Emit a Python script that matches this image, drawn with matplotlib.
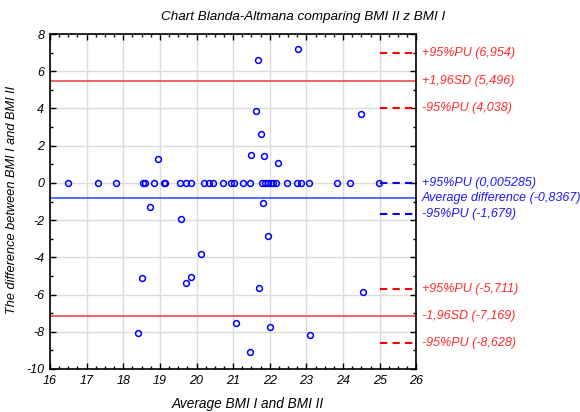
import matplotlib
matplotlib.use("Agg")
import matplotlib.pyplot as plt
from matplotlib.ticker import MultipleLocator
import numpy as np

plt.rcParams['font.family'] = ['Liberation Sans', 'DejaVu Sans']
plt.rcParams['axes.unicode_minus'] = False

# points lying on zero difference
zero_x = [16.5, 17.3, 17.8, 18.55, 18.6, 18.83, 19.1, 19.15, 19.54, 19.7, 19.85,
          20.2, 20.33, 20.45, 20.72, 20.95, 21.03, 21.26, 21.45, 21.8, 21.88,
          21.95, 22.03, 22.1, 22.17, 22.48, 22.75, 22.86, 23.06, 23.83, 24.2, 24.98]
# points with non-zero difference
nz_x = [21.68, 22.77, 21.62, 21.75, 21.48, 21.84, 22.22, 18.95, 18.73, 21.81, 24.48,
        19.59, 20.11, 18.51, 19.85, 19.72, 21.96, 21.71, 21.07, 22.0, 18.41, 21.45,
        23.09, 24.54]
nz_y = [6.58, 7.17, 3.88, 2.61, 1.52, 1.46, 1.09, 1.29, -1.32, -1.06, 3.68,
        -1.95, -3.84, -5.11, -5.04, -5.36, -2.84, -5.63, -7.51, -7.76, -8.08, -9.10,
        -8.15, -5.88]

x_avg = zero_x + nz_x
y_diff = [0.0] * len(zero_x) + nz_y

mean_diff = -0.8367
upper_sd = 5.496
lower_sd = -7.169
# confidence limits (value, colour)
ci_vals = [6.954, 4.038, 0.005285, -1.679, -5.711, -8.628]
ci_cols = ['red', 'red', 'blue', 'blue', 'red', 'red']

labels = [
    (6.954, "+95%PU (6,954)", 'red'),
    (5.496, "+1,96SD (5,496)", 'red'),
    (4.038, "-95%PU (4,038)", 'red'),
    (0.005285, "+95%PU (0,005285)", 'blue'),
    (-0.8367, "Average difference (-0,8367)", 'blue'),
    (-1.679, "-95%PU (-1,679)", 'blue'),
    (-5.711, "+95%PU (-5,711)", 'red'),
    (-7.169, "-1,96SD (-7,169)", 'red'),
    (-8.628, "-95%PU (-8,628)", 'red'),
]

RED = '#ff2a2a'
BLUE = '#1a1aff'
cmap = {'red': RED, 'blue': BLUE}

fig = plt.figure(figsize=(5.8, 4.12), dpi=100)
ax = fig.add_axes([0.086, 0.1044, 0.632, 0.813])

ax.grid(True, color='#dcdcdc', linewidth=1.0, zorder=0)
ax.axhline(upper_sd, color='#f04848', linewidth=1.2, zorder=2)
ax.axhline(lower_sd, color='#f04848', linewidth=1.2, zorder=2)
ax.axhline(mean_diff, color='#3355ff', linewidth=1.2, zorder=2)
for v, c in zip(ci_vals, ci_cols):
    ax.plot([25, 26], [v, v], color='red' if c == 'red' else '#0000ee',
            linestyle=(0, (3.5, 2.5)), linewidth=1.5, zorder=3)

ax.plot(x_avg, y_diff, linestyle='none', marker='o', markersize=4.2,
        markerfacecolor='none', markeredgecolor='#0000ff', markeredgewidth=1.1, zorder=4)

ax.set_xlim(16, 26)
ax.set_ylim(-10, 8)
ax.xaxis.set_major_locator(MultipleLocator(1))
ax.xaxis.set_minor_locator(MultipleLocator(0.25))
ax.yaxis.set_major_locator(MultipleLocator(2))
ax.yaxis.set_minor_locator(MultipleLocator(1))
ax.tick_params(which='both', direction='in', top=True, right=True, color='black')
ax.tick_params(which='major', length=4, width=1, labelsize=9, pad=4)
ax.tick_params(which='minor', length=2.5, width=1)
for lab in ax.get_xticklabels() + ax.get_yticklabels():
    lab.set_fontstyle('italic')
for s in ax.spines.values():
    s.set_linewidth(1.2)
    s.set_color('black')

for y, t, c in labels:
    ax.text(1.015, y, t, transform=ax.get_yaxis_transform(), color=cmap[c],
            fontsize=9, fontstyle='italic', va='center', ha='left', clip_on=False)

fig.text(0.522, 0.958, "Chart Blanda-Altmana comparing BMI II z BMI I",
         ha='center', va='center', fontsize=9.7, fontstyle='italic')
fig.text(0.427, 0.019, "Average BMI I and BMI II",
         ha='center', va='center', fontsize=9.8, fontstyle='italic')
fig.text(0.021, 0.515, "The difference between BMI I and BMI II", rotation=90,
         ha='center', va='center', fontsize=9.2, fontstyle='italic')

fig.savefig("out.png", dpi=100)
